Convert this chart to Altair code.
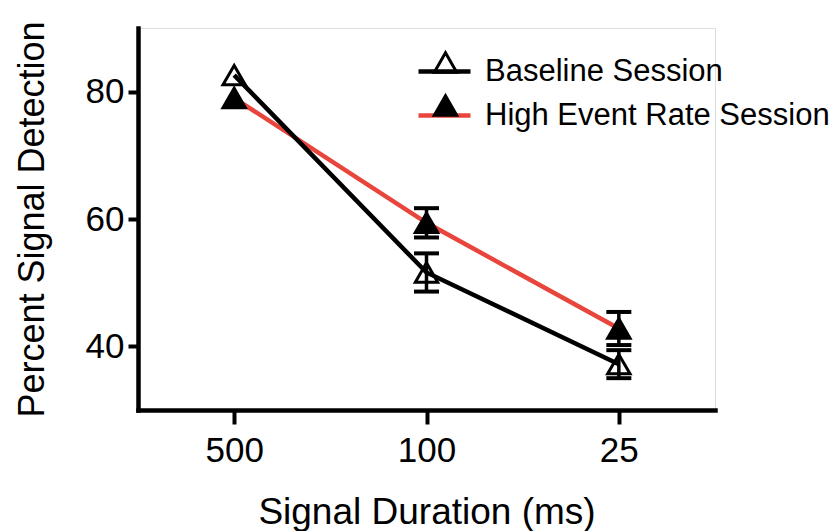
import altair as alt
import pandas as pd

durations = ["500", "100", "25"]
series_names = ["Baseline Session", "High Event Rate Session"]
baseline_mean = [82.6, 51.6, 37.2]
baseline_err = [0.5, 3.0, 2.2]
high_mean = [79.0, 59.4, 42.8]
high_err = [0.5, 2.3, 2.6]

rows = []
for name, means, errs in [(series_names[0], baseline_mean, baseline_err),
                          (series_names[1], high_mean, high_err)]:
    for d, m, e in zip(durations, means, errs):
        rows.append({"duration": d, "series": name, "series_fill": name,
                     "mean": m, "lo": m - e, "hi": m + e})
df = pd.DataFrame(rows)

FONT = "Liberation Sans"
RED = "#e8453c"

x_enc = alt.X("duration:N", sort=durations,
              scale=alt.Scale(type="point", domain=durations, padding=0.5),
              axis=alt.Axis(title="Signal Duration (ms)", labelAngle=0,
                            labelFontSize=35, titleFontSize=37,
                            labelPadding=9, titlePadding=26,
                            tickSize=14, tickWidth=4, domainWidth=4.5,
                            domainCap="square"))
y_scale = alt.Scale(domain=[30, 90], nice=False, zero=False)
y_axis = alt.Axis(title="Percent Signal Detection", values=[40, 60, 80],
                  grid=False, labelFontSize=35, titleFontSize=36,
                  labelPadding=4, titlePadding=34, tickSize=10, tickWidth=4,
                  domainWidth=4.5, domainCap="square")

base = alt.Chart(df)

color_legend = alt.Legend(orient="none", legendX=278, legendY=15, title=None,
                          symbolType="stroke", symbolSize=2704,
                          symbolStrokeWidth=4.5, labelFont=FONT,
                          labelFontSize=31, labelOffset=12, labelLimit=600,
                          rowPadding=-1, padding=0, labelColor="black")
color_enc = alt.Color("series:N",
                      scale=alt.Scale(domain=series_names, range=["black", RED]),
                      legend=color_legend)

line_high = base.transform_filter(alt.datum.series == series_names[1]).mark_line(
    strokeWidth=4.5).encode(x=x_enc, y=alt.Y("mean:Q", scale=y_scale, axis=y_axis),
                            color=color_enc)
line_base = base.transform_filter(alt.datum.series == series_names[0]).mark_line(
    strokeWidth=4.5).encode(x=x_enc, y=alt.Y("mean:Q", scale=y_scale, axis=y_axis),
                            color=color_enc)

# error bars shorter than the marker are hidden (as in the original)
err_base = base.transform_filter("datum.hi - datum.lo > 2")
err_rule = err_base.mark_rule(color="black", strokeWidth=3.5).encode(
    x=x_enc, y=alt.Y("lo:Q", scale=y_scale, axis=y_axis), y2="hi:Q")

err_caps = err_base.transform_fold(["lo", "hi"], as_=["k", "v"]).mark_tick(
    color="black", size=25, thickness=4, opacity=1).encode(
    x=x_enc, y=alt.Y("v:Q", scale=y_scale, axis=y_axis))

fill_legend = alt.Legend(orient="none", legendX=292, legendY=19, title=None,
                         symbolType="triangle-up", symbolSize=500,
                         symbolStrokeColor="black", symbolStrokeWidth=3,
                         symbolOpacity=1, labelFont=FONT, labelFontSize=31,
                         labelExpr="''", rowPadding=10, padding=0)
points = base.mark_point(shape="triangle-up", size=500, filled=True,
                         stroke="black", strokeWidth=3, opacity=1).encode(
    x=x_enc, y=alt.Y("mean:Q", scale=y_scale, axis=y_axis),
    fill=alt.Fill("series_fill:N",
                  scale=alt.Scale(range=["transparent", "black"]),
                  legend=fill_legend))

chart = alt.layer(line_high, line_base, err_rule, err_caps, points).properties(
    width=577, height=382,
    autosize=alt.AutoSizeParams(type="none"),
    padding={"left": 138, "top": 28, "right": 121, "bottom": 121},
).configure_view(stroke=None).configure(
    font=FONT
).configure_axis(
    labelFont=FONT, titleFont=FONT, labelColor="black", titleColor="black",
    domainColor="black", tickColor="black", titleFontWeight="normal"
)

chart.save("out.html", embed_options={"renderer": "svg", "actions": False})
